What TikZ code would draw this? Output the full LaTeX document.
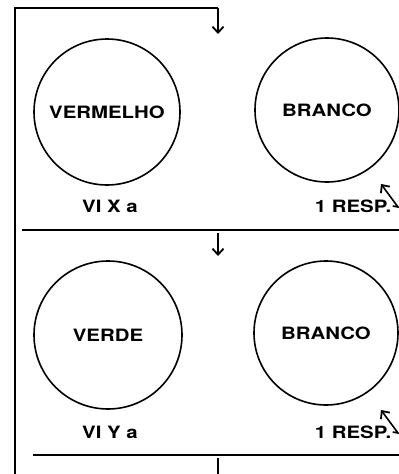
\documentclass[tikz,border=0pt]{standalone}
\usepackage{fontspec}
\setmainfont{TeX Gyre Heros}
\newfontfamily\widefont[FakeStretch=1.2]{TeX Gyre Heros}
\usetikzlibrary{arrows.meta}

\tikzset{every picture/.style={line width=1.6pt}}
\tikzset{
  disc/.style={draw, circle, minimum size=#1, inner sep=0pt},
  word/.style={font=\widefont\bfseries\fontsize{17}{20}\selectfont, inner sep=0.75pt},
  tip/.style={-{Straight Barb[length=6pt,width=11pt,line width=1.8pt]}}
}

\begin{document}
\begin{tikzpicture}[x=1pt,y=1pt,yscale=-1]
\useasboundingbox (0,0) rectangle (399,474);

%Frame and top arrow
\coordinate (base) at (15,474);
\coordinate (corner) at (15,8);
\coordinate (bend) at (218,8);
\coordinate (in1) at (218,34);
\draw (base) -- (corner) -- (bend);
\draw [tip] (bend) -- (in1);

%Shape: Circle
\node [disc=146pt, word] (vermelho) at (107,112) {VERMELHO};
%Shape: Circle
\node [disc=144pt, word] (branco1) at (327,110) {BRANCO};

% Text Node
\node [word] (vixa) at (110,206) {VI X a};
% Text Node
\node [word] (resp1) at (353,206) {1 RESP.};
\coordinate (hook1) at (398,207);
\coordinate (head1) at (381,184);
\draw [tip] (resp1.east) -- (hook1) -- (head1);

%Divider and arrow
\coordinate (sepl1) at (22,230);
\coordinate (sepr1) at (399,230);
\coordinate (out1) at (218,233);
\coordinate (in2) at (218,256);
\draw (sepl1) -- (sepr1);
\draw [tip] (out1) -- (in2);

%Shape: Circle
\node [disc=148pt, word] (verde) at (108,335) {VERDE};
%Shape: Circle
\node [disc=144pt, word] (branco2) at (326,333) {BRANCO};

% Text Node
\node [word] (viya) at (110,432) {VI Y a};
% Text Node
\node [word] (resp2) at (353,432) {1 RESP.};
\coordinate (hook2) at (398,433);
\coordinate (head2) at (381,410);
\draw [tip] (resp2.east) -- (hook2) -- (head2);

%Divider and tick
\coordinate (sepl2) at (33,455);
\coordinate (sepr2) at (399,455);
\coordinate (out2) at (218,458);
\coordinate (end2) at (218,474);
\draw (sepl2) -- (sepr2);
\draw (out2) -- (end2);

\end{tikzpicture}
\end{document}
